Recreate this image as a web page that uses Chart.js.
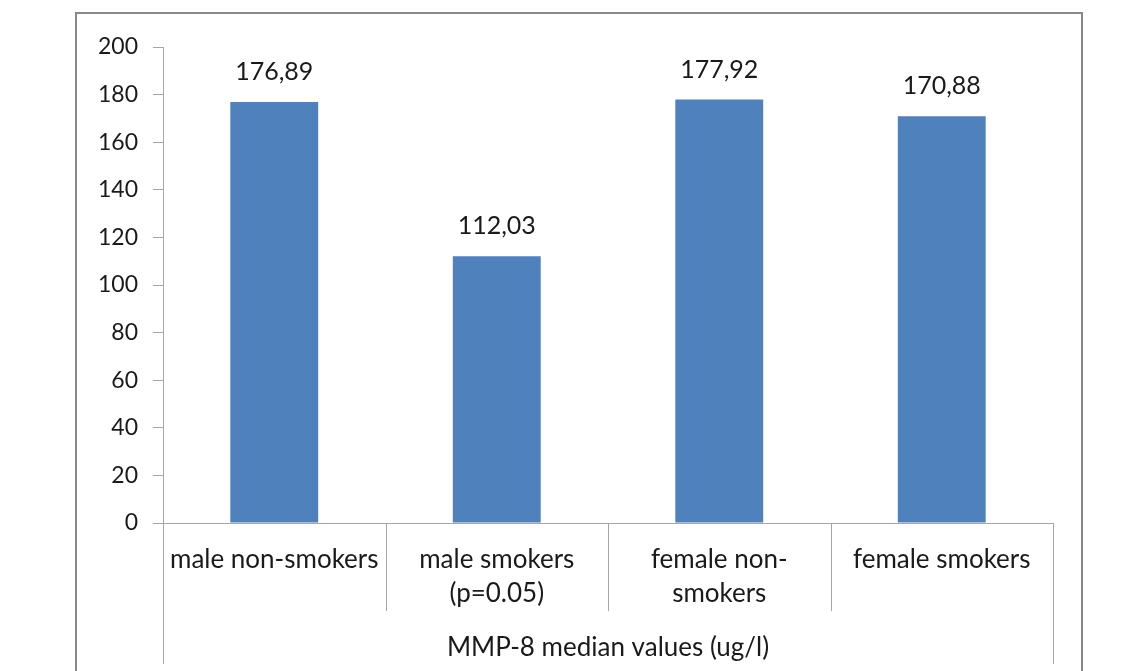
<!DOCTYPE html>
<html>
<head>
<meta charset="utf-8">
<script src="https://cdn.jsdelivr.net/npm/chart.js@4/dist/chart.umd.min.js"></script>
<style>
  html, body { margin: 0; padding: 0; background: #fff; }
  #wrap { width: 1138px; height: 671px; }
</style>
</head>
<body>
<div id="wrap"><canvas id="mmp-chart"></canvas></div>
<script>
// categories and values
const categories = ['male non-smokers', ['male smokers', '(p=0.05)'], ['female non-', 'smokers'], 'female smokers'];
const medianValues = [176.89, 112.03, 177.92, 170.88];
const yTicks = [0, 20, 40, 60, 80, 100, 120, 140, 160, 180, 200];
const axisTitle = 'MMP-8 median values (ug/l)';

const FONT = 'Lato, Carlito, sans-serif';
const AXIS_GREY = '#a6a6a6';

// frame round the whole chart + value labels + table lines under the axis
const decor = {
    id: 'decor',
    beforeDraw(chart) {
        const c = chart.ctx;
        c.save();
        c.fillStyle = '#fff';
        c.fillRect(0, 0, chart.width, chart.height);
        c.strokeStyle = '#888';
        c.lineWidth = 2;
        c.beginPath();
        c.moveTo(76, chart.height + 5);
        c.lineTo(76, 13);
        c.lineTo(1082, 13);
        c.lineTo(1082, chart.height + 5);
        c.stroke();
        c.restore();
    },
    afterDraw(chart) {
        const c = chart.ctx;
        const x = chart.scales.x;
        const area = chart.chartArea;
        c.save();
        c.strokeStyle = AXIS_GREY;
        c.lineWidth = 1;
        // separators between categories
        for (let i = 1; i < categories.length; i++) {
            const px = Math.round((x.getPixelForValue(i - 1) + x.getPixelForValue(i)) / 2) + 0.5;
            c.beginPath();
            c.moveTo(px, area.bottom);
            c.lineTo(px, area.bottom + 88);
            c.stroke();
        }
        // outer lines of the label table
        [area.left, area.right].forEach(px => {
            c.beginPath();
            c.moveTo(Math.round(px) + 0.5, area.bottom);
            c.lineTo(Math.round(px) + 0.5, area.bottom + 141);
            c.stroke();
        });
        // value labels above bars
        c.fillStyle = '#1a1a1a';
        c.font = '25px ' + FONT;
        c.textAlign = 'center';
        c.textBaseline = 'middle';
        chart.getDatasetMeta(0).data.forEach((bar, i) => {
            c.fillText(medianValues[i].toFixed(2).replace('.', ','), bar.x, bar.y - 30);
        });
        c.restore();
    }
};

const ctx = document.getElementById('mmp-chart').getContext('2d');

new Chart(ctx, {
    type: 'bar',
    data: {
        labels: categories,
        datasets: [{
            data: medianValues,
            backgroundColor: '#4f81bd',
            borderWidth: 0,
            categoryPercentage: 1,
            barPercentage: 0.395,
        }]
    },
    options: {
        responsive: true,
        maintainAspectRatio: false,
        animation: false,
        events: [],
        layout: { padding: { left: 0, right: 85, top: 47, bottom: 0 } },
        plugins: {
            legend: { display: false },
            tooltip: { enabled: false },
        },
        scales: {
            x: {
                afterFit: s => { s.height = 148; },
                grid: { display: false },
                border: { display: true, color: AXIS_GREY, width: 1 },
                ticks: {
                    color: '#1a1a1a',
                    font: { family: FONT, size: 26, lineHeight: 1.33 },
                    padding: 11,
                    maxRotation: 0,
                    autoSkip: false,
                },
                title: {
                    display: true,
                    text: axisTitle,
                    color: '#1a1a1a',
                    font: { family: FONT, size: 26 },
                    padding: { top: 0, bottom: 8 },
                },
            },
            y: {
                min: 0,
                max: 200,
                afterFit: s => { s.width = 163; },
                afterBuildTicks: s => { s.ticks = yTicks.map(v => ({ value: v })); },
                grid: { drawOnChartArea: false, drawTicks: true, tickLength: 10, color: AXIS_GREY },
                border: { display: true, color: AXIS_GREY, width: 1 },
                ticks: {
                    color: '#1a1a1a',
                    font: { family: FONT, size: 23 },
                    padding: 15,
                },
            },
        },
    },
    plugins: [decor],
});
</script>
</body>
</html>
